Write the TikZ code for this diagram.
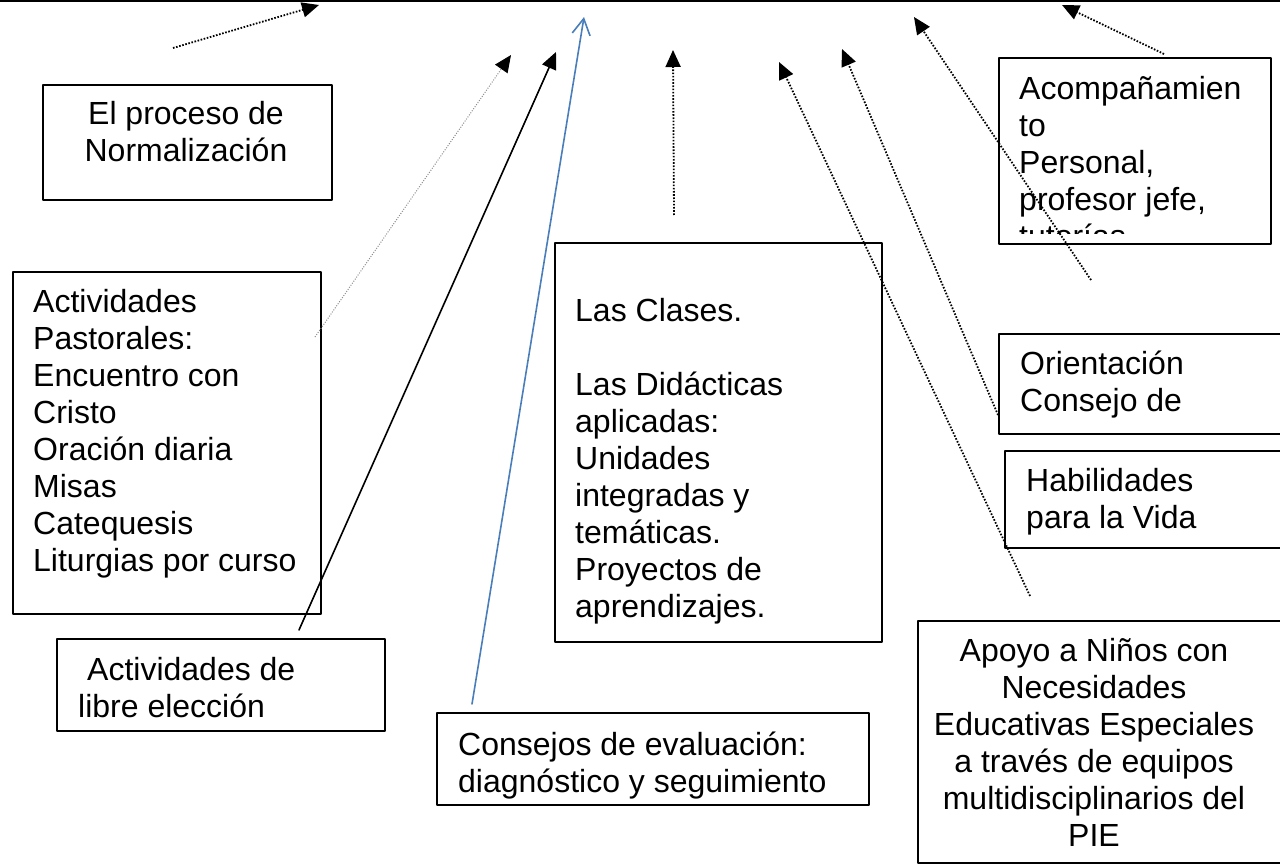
\documentclass[tikz,border=0pt]{standalone}
\usepackage{fontspec}
\setmainfont{Liberation Sans}
\usetikzlibrary{arrows.meta}
\definecolor{lineblue}{RGB}{74,126,187}
\definecolor{lightdot}{RGB}{140,140,140}
\tikzset{
	box/.style={draw,line width=1.6pt,anchor=north west,inner sep=0pt},
	txt/.style={anchor=north west,align=left,inner sep=0pt,font=\fontsize{32}{37}\selectfont},
	head/.style={-{Triangle[length=17pt,width=15pt,black]}},
	dots/.style={head,line width=1.8pt,line cap=butt,dash pattern=on 1.6pt off 1.6pt},
	thindots/.style={head,lightdot,line width=1pt,line cap=butt,dash pattern=on 1pt off 1.5pt},
	solid arrow/.style={head,line width=1.6pt},
	blue arrow/.style={lineblue,line width=1.6pt,-{Straight Barb[length=16pt,width=18pt]}}
}
\begin{document}
\begin{tikzpicture}[x=1pt,y=-1pt,line cap=round,line join=round]
			\useasboundingbox (0,0) rectangle (1280,867);
			\draw[line width=2pt] (0,1)--(1280,1);
			% cuadros
			\node[box,minimum width=289pt,minimum height=115pt] (norm) at (42,84) {};
			\node[box,minimum width=308pt,minimum height=342pt] (pastoral) at (12,271) {};
			\node[box,minimum width=328pt,minimum height=92pt] (libre) at (56,638) {};
			\node[box,minimum width=432pt,minimum height=92pt] (consejos) at (436,712) {};
			\node[box,minimum width=327pt,minimum height=399pt] (clases) at (554,242) {};
			\node[box,minimum width=272pt,minimum height=186pt] (acomp) at (998,57) {};
			\node[box,minimum width=320pt,minimum height=100pt] (orient) at (998,333) {};
			\node[box,minimum width=320pt,minimum height=97pt] (habil) at (1004,450) {};
			\node[box,minimum width=400pt,minimum height=242pt] (apoyo) at (917,620) {};
			% textos
			\node[txt,anchor=north,align=center] (norm-t) at (186,101) {El proceso de\\Normalización};
			\node[txt] (pastoral-t) at (33,289) {Actividades\\Pastorales:\\Encuentro con\\Cristo\\Oración diaria\\Misas\\Catequesis\\Liturgias por curso};
			\node[txt] (libre-t) at (78,657) {\hspace*{9pt}Actividades de\\libre elección};
			\node[txt] (consejos-t) at (458,732) {Consejos de evaluación:\\diagnóstico y seguimiento};
			\node[txt] (clases-t) at (575,298) {Las Clases.\\[37pt]Las Didácticas\\aplicadas:\\Unidades\\integradas y\\temáticas.\\Proyectos de\\aprendizajes.};
			\begin{scope}
				\clip (998,57) rectangle (1270,233);
				\node[txt] (acomp-t) at (1019,76) {Acompañamien\\to\\Personal,\\profesor jefe,\\tutorías};
			\end{scope}
			\node[txt] (orient-t) at (1020,351) {Orientación\\Consejo de};
			\node[txt] (habil-t) at (1026,468) {Habilidades\\para la Vida};
			\node[txt,anchor=north,align=center] (apoyo-t) at (1094,638) {Apoyo a Niños con\\Necesidades\\Educativas Especiales\\a través de equipos\\multidisciplinarios del\\PIE};
			% extremos de las flechas
			\coordinate (a1) at (173,48);   \coordinate (b1) at (319,5);
			\coordinate (a2) at (315,337);  \coordinate (b2) at (511,55);
			\coordinate (a3) at (299,630);  \coordinate (b3) at (556,52);
			\coordinate (a4) at (472,704);  \coordinate (b4) at (584,17);
			\coordinate (a5) at (674,215);  \coordinate (b5) at (673,50);
			\coordinate (a6) at (1030,596); \coordinate (b6) at (779,62);
			\coordinate (a7) at (998,415);  \coordinate (b7) at (842,49);
			\coordinate (a8) at (1091,280); \coordinate (b8) at (914,17);
			\coordinate (a9) at (1164,54);  \coordinate (b9) at (1062,5);
			% flechas
			\draw[dots] (a1)--(b1);
			\draw[thindots] (a2)--(b2);
			\draw[solid arrow] (a3)--(b3);
			\draw[blue arrow] (a4)--(b4);
			\foreach \i in {5,6,7,8,9}
				\draw[dots] (a\i)--(b\i);
		\end{tikzpicture}
\end{document}
